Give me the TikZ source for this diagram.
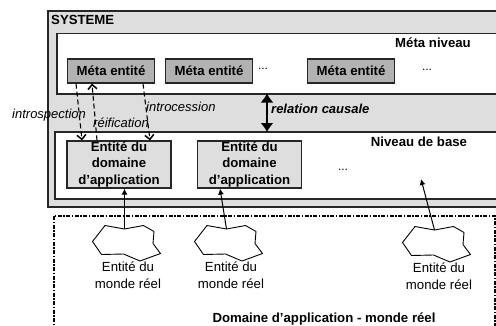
\documentclass[tikz,border=0pt]{standalone}
\usepackage{fontspec}
\setmainfont{Liberation Sans}
\usetikzlibrary{arrows.meta}

\tikzset{
  every node/.style={font=\fontsize{13.2}{16.4}\selectfont, inner sep=0pt, align=center},
  level/.style={draw=black!85, line width=1.2pt},
  metabox/.style={draw=black!85, line width=1.2pt, fill=black!30, minimum width=87pt, minimum height=24pt, font=\fontsize{13.2}{16.4}\selectfont\bfseries},
  basebox/.style={draw=black!85, line width=1.2pt, fill=black!13, minimum width=104pt, minimum height=47pt, font=\fontsize{13.2}{16.4}\selectfont\bfseries},
  title/.style={font=\fontsize{13.2}{16.4}\selectfont\bfseries},
  slanted/.style={font=\fontsize{13}{16}\selectfont\itshape},
  etc/.style={anchor=base, font=\fontsize{12}{14}\selectfont},
  reflex/.style={dashed, dash pattern=on 5pt off 3pt, line width=1.1pt, -{Straight Barb[length=4.5pt,width=9pt,line width=1.5pt]}},
  link/.style={line width=1pt, -{Latex[length=6pt,width=6pt]}}
}

\begin{document}
\begin{tikzpicture}[x=1pt, y=-1pt]
  \clip (0,0) rectangle (496,325);
  % systeme
  \draw[level, fill=black!13] (48,11) rectangle (500,207);
  \draw[level, fill=white] (57,33.5) rectangle (500,94);
  \draw[level, fill=white] (55,132) rectangle (500,199);
  \node[title, anchor=west] (systeme) at (51,19.5) {SYSTEME};
  \node[title] (metaniveau) at (433,43) {Méta niveau};
  \node[title] (niveaubase) at (419,142) {Niveau de base};

  \node[metabox] (meta1) at (111,71) {Méta entité};
  \node[metabox] (meta2) at (209,71) {Méta entité};
  \node[metabox] (meta3) at (351,71) {Méta entité};
  \node[basebox] (base1) at (119,164.5) {Entité du\\domaine\\d’application};
  \node[basebox] (base2) at (249.5,164.5) {Entité du\\domaine\\d’application};
  \node[etc] (etc1) at (263,69) {...};
  \node[etc] (etc2) at (427,70) {...};
  \node[etc] (etc3) at (343,170) {...};
  \coordinate (basefree) at (421,179);

  % domaine reel
  \draw[line width=1.5pt, dash pattern=on 4pt off 1.5pt on 1.5pt off 1.5pt] (54,216) rectangle (495,340);
  \foreach \n/\dx/\dy in {1/0/0,2/102/0,3/310/1}{
    \draw[line width=.9pt, shift={(\dx,\dy)}] (105,225.5) -- (124.5,229) -- (143.5,225.5) -- (154,231.5)
      -- (153,243.5) -- (160.5,253.5) -- (140,261) -- (123.5,254) -- (101.5,254.5) -- (92.5,241.5) -- cycle;
    \coordinate (blob\n) at (124.5+\dx,229+\dy);
  }
  \node (reel1) at (128,275) {Entité du\\monde réel};
  \node (reel2) at (231,275) {Entité du\\monde réel};
  \node (reel3) at (439,276) {Entité du\\monde réel};
  \node[title] (domaine) at (324,319) {Domaine d’application - monde réel};

  \draw[link] (blob1) -- (base1.south -| blob1);
  \draw[link] (blob2) -- ([xshift=-29.5pt]base2.south);
  \draw[link] (blob3) -- (basefree);

  \draw[reflex] ([xshift=-35pt]meta1.south) -- ([xshift=-37pt]base1.north);
  \draw[reflex] ([xshift=-22pt]base1.north) -- ([xshift=-19pt]meta1.south);
  \draw[reflex] ([xshift=32pt]meta1.south) -- ([xshift=31pt]base1.north);
  \draw[line width=1.5pt, {Latex[length=9pt,width=13pt]}-{Latex[length=9pt,width=13pt]}] (267,93.5) -- (267,132);

  \node[slanted, anchor=west] (introspection) at (12,115) {introspection};
  \node[slanted, anchor=west] (reification) at (93,123) {réification};
  \node[slanted, anchor=west] (introcession) at (146,107) {introcession};
  \node[title, anchor=west, font=\fontsize{13}{16}\selectfont\bfseries\itshape] (causale) at (271,108.5) {relation causale};
\end{tikzpicture}
\end{document}
